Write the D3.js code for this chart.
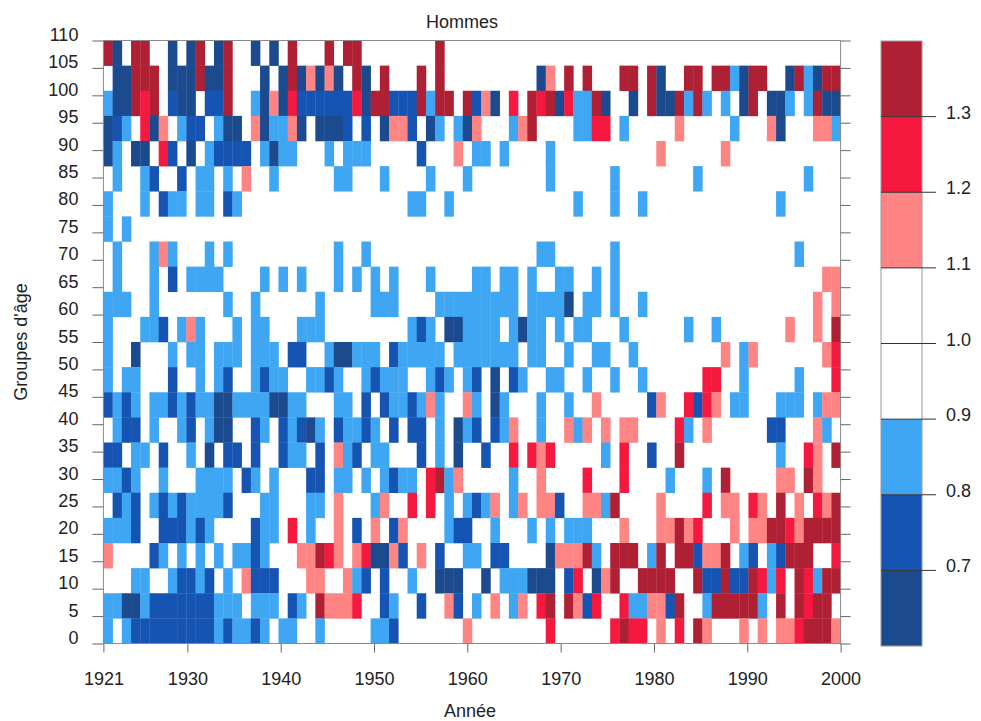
<!DOCTYPE html>
<html lang="fr">
<head>
    <meta charset="UTF-8">
    <title>Hommes</title>
    <script src="https://d3js.org/d3.v7.min.js"></script>
    <style>
        html, body { margin: 0; padding: 0; background: #fff; }
        text { font-family: "Liberation Sans", Arial, sans-serif; fill: #222; }
    </style>
</head>
<body>
    <script>
        // one string per age row, top row first, one letter per year, spaces are only for reading
        // d < 0.7, m 0.7-0.8, l 0.8-0.9, . 0.9-1.1, p 1.1-1.2, r 1.2-1.3, k > 1.3
        var row00 = "kd.kk..d.d k.dk..d.d. k...k.kk.. ......k... .......... .......... .......... ..........";
        var row01 = ".ddkkk.ddd kddk...d.d kdpdpd.kd. k...k.k... .......dp. k.k...kk.k d..kk.kkld kk..dkldkk";
        var row02 = "lddkrk.mdd .mmk..ldpd rmmmmmmrdk kmmmklkk.k mpd.r.krkd rllkd..d.k ddklkl.l.d k.ddl.lkdd";
        var row03 = "dml.rdp.lm m.ldd.pdll pd.dddm.m. dppm.dl.ld p...lpk... .llrr.l... ..p.....l. ..pd...ppl";
        var row04 = "dl.dd.rm.d .lmmmm.ldl l...l.lll. ....m...p. ll.l....l. .......... p......p.. ..........";
        var row05 = ".l..lm..m. ll.l.p..l. .....ll... l....l...l ........l. .....l.... ....l..... ......l...";
        var row06 = "l...l.mll. ll.ml..... .......... ...ll..l.. .......... .l...l..l. .......... ...l......";
        var row07 = "l.l....... .......... .......... .......... .......... .......... .......... ..........";
        var row08 = ".l...lpl.. .l.l...... .....l..l. .......... .......ll. .....l.... .......... .....l....";
        var row09 = ".l...l.m.l lll....l.l .l...l.l.l .l...l.... ll.ll.l..l l..l.l.... .......... ........pp";
        var row10 = "lll..l.... ...l..l... ...l.....l ll....llll lllll.llll d.ll.l..l. .......... .......p.p";
        var row11 = "l...llm.lp l...l.ll.. .lll...... ...lml.ddl lll.ldll.l .ll...l... ...l..l... ....p..p.k";
        var row12 = "l..d...l.l l.lll.lll. mm..lddlll .mlllll.ll lllll.ll.. l..ll..l.. .......p.l p.......pr";
        var row13 = "l.ll...m.. l.lm..lmll ..llml..lm lll..lml.l m.d.ml..ll ..l..l..l. .....rr..l .....l...r";
        var row14 = "mlml.llmlm llddlllldd ll...ll.m. mllmlpl..p l.dl...l.. l..p.....m p..rmrp.ll ...lll.lpp";
        var row15 = ".lmm.l..lm .ldd..ml.m lmdl.mllml .m.mm.l.dl m.mlp..l.. plp.p.pp.. ..rl.p.... ..mm...pl.";
        var row16 = "mm.ll.m..l .d.mm.m..m ll.m.plm.l l...m.l.d. .m..r.rpr. ....l.r..m ..k....... ...l..rp.k";
        var row17 = "llml..l... llll.ml.l. ..mm.ll.l. lmll.rklp. ....l..p.. ..r...r... .l...l.k.. ...pp.kp..";
        var row18 = ".mlm.lmlml lllm...ll. ..ll.p...l p..r.r.l.l mlp.lp.ppm ..pplk.... p....r.pp. rp.k.p.rpk";
        var row19 = "lllm..mmml ml....mll. r.l..p.m.p .mp....lmm ..l...l.l. lll...p... ppkpr...p. ppkkrpkkkk";
        var row20 = "p....ml.l. l.l.llml.. .ppkrp.prd dpm.p.m..l l.mm....dp ppkl.kkk.l k.kkmppk.l m.lmkkk..r";
        var row21 = "...ll..lmm lm.l.pmmm. ..pp..plm. m..l..ddd. .d.lllddd. mr.dpk..kk kk..kmmkmm krlr.krlkk";
        var row22 = "llddlmmmmm mmlll.lll. ml.kpppr.. ml..m..pm. l.p.lp.rk. kpmr..rllp pmk..lkkkk kl.k.krkk.";
        var row23 = "l.lmmmmmmm mmlmllml.l l..l.....l lm.......p ........r. .....rkrr. p.r.kp...p .p.pprkkkp";

        var ratioOf = { d: 0.65, m: 0.75, l: 0.85, ".": 1.0, p: 1.15, r: 1.25, k: 1.35 };

        var thresholds = [0.7, 0.8, 0.9, 1.1, 1.2, 1.3];
        var colours = ["#1c4a8e", "#1554b2", "#3ea6f2", "#ffffff", "#ff8585", "#f5183f", "#b02034"];
        var legendEdges = [0.6, 0.7, 0.8, 0.9, 1.1, 1.2, 1.3, 1.4];
        var legendTicks = [0.7, 0.8, 0.9, 1.0, 1.1, 1.2, 1.3];
        var yearTicks = [1921, 1930, 1940, 1950, 1960, 1970, 1980, 1990, 2000];
        var ageTicks = d3.range(0, 111, 5);

        var rows = [row00, row01, row02, row03, row04, row05, row06, row07, row08, row09, row10, row11,
                    row12, row13, row14, row15, row16, row17, row18, row19, row20, row21, row22, row23];
        var years = d3.range(1921, 2001);

        var svgWidth = 981;
        var svgHeight = 721;
        // note: plain "top" is taken by window.top
        var plotLeft = 103.4, plotRight = 840.6, plotTop = 40.5, plotBottom = 643.5;

        var svg = d3.select("body").append("svg")
                    .attr("width", svgWidth)
                    .attr("height", svgHeight)
                    .style("display", "block");

        var color = d3.scaleThreshold().domain(thresholds).range(colours);

        // cells fill the frame, so the last year ends on the 2000 tick
        var xCell = d3.scaleBand().domain(years).range([plotLeft, plotRight]);
        var yCell = d3.scaleBand().domain(d3.range(rows.length)).range([plotTop, plotBottom]);
        var x = d3.scaleLinear().domain([1921, 2000]).range([plotLeft, plotRight]);
        var y = d3.scaleLinear().domain([0, 110]).range([plotBottom, plotTop]);

        var cells = [];
        rows.forEach(function (row, r) {
            row.replace(/ /g, "").split("").forEach(function (code, i) {
                cells.push({ year: years[i], row: r, ratio: ratioOf[code] });
            });
        });

        svg.append("g").selectAll("rect")
            .data(cells.filter(function (d) { return d.ratio !== 1.0; }))
            .enter().append("rect")
            .attr("x", function (d) { return xCell(d.year); })
            .attr("y", function (d) { return yCell(d.row); })
            .attr("width", xCell.bandwidth() + 0.3)
            .attr("height", yCell.bandwidth() + 0.3)
            .attr("fill", function (d) { return color(d.ratio); });

        // frame
        svg.append("path")
            .attr("d", d3.line()([[plotLeft, plotBottom], [plotLeft, plotTop], [plotRight, plotTop], [plotRight, plotBottom], [plotLeft, plotBottom]]))
            .attr("fill", "none")
            .attr("stroke", "#8a8a8a");

        function styleAxis(g) {
            g.select(".domain").remove();
            g.selectAll(".tick line").attr("stroke", "#666");
            g.selectAll("text").style("font-size", "18px");
            g.attr("font-family", null).attr("font-size", null);
        }

        svg.append("g")
            .attr("transform", "translate(0," + plotBottom + ")")
            .call(d3.axisBottom(x).tickValues(yearTicks).tickFormat(d3.format("d")).tickSize(9).tickPadding(20))
            .call(styleAxis);

        // the age labels sit a little above their ticks in the reference
        svg.append("g")
            .attr("transform", "translate(" + plotLeft + ",0)")
            .call(d3.axisLeft(y).tickValues(ageTicks).tickSize(11).tickPadding(14))
            .call(styleAxis)
            .selectAll("text").attr("dy", "0").attr("y", 0);

        svg.append("g")
            .attr("transform", "translate(" + plotRight + ",0)")
            .call(d3.axisRight(y).tickValues(ageTicks).tickSize(10).tickFormat(""))
            .call(styleAxis);

        svg.append("text").attr("x", 462).attr("y", 28).attr("text-anchor", "middle")
            .style("font-size", "18px").text("Hommes");
        svg.append("text").attr("x", 470).attr("y", 717).attr("text-anchor", "middle")
            .style("font-size", "18px").text("Année");
        svg.append("text").attr("transform", "translate(27,342) rotate(-90)").attr("text-anchor", "middle")
            .style("font-size", "18px").text("Groupes d'âge");

        // colour bar
        var barLeft = 881, barRight = 922;
        var yBar = d3.scaleLinear().domain([0.6, 1.4]).range([646, 41]);

        svg.append("g").selectAll("rect")
            .data(d3.pairs(legendEdges))
            .enter().append("rect")
            .attr("x", barLeft)
            .attr("y", function (d) { return yBar(d[1]); })
            .attr("width", barRight - barLeft)
            .attr("height", function (d) { return yBar(d[0]) - yBar(d[1]); })
            .attr("fill", function (d) { return color((d[0] + d[1]) / 2); });

        svg.append("rect")
            .attr("x", barLeft).attr("y", yBar(1.4))
            .attr("width", barRight - barLeft).attr("height", yBar(0.6) - yBar(1.4))
            .attr("fill", "none").attr("stroke", "#9a9a9a");

        svg.append("g").selectAll("line")
            .data(legendTicks)
            .enter().append("line")
            .attr("x1", barLeft).attr("x2", 936)
            .attr("y1", function (d) { return yBar(d); })
            .attr("y2", function (d) { return yBar(d); })
            .attr("stroke", "#333");

        svg.append("g").selectAll("text")
            .data(legendTicks)
            .enter().append("text")
            .attr("x", 946)
            .attr("y", function (d) { return yBar(d) + 2; })
            .style("font-size", "18px")
            .text(d3.format(".1f"));
    </script>
</body>
</html>
